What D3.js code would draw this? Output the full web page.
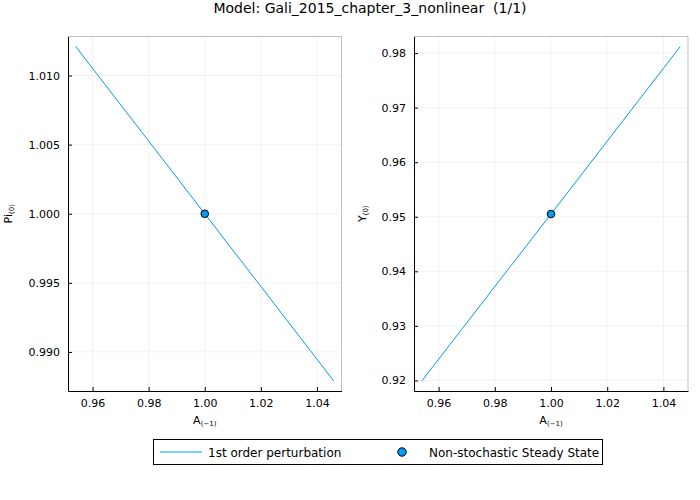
<!DOCTYPE html>
<html lang="en">
<head>
  <meta charset="utf-8">
  <title>Gali_2015_chapter_3_nonlinear</title>
  <script src="https://cdn.jsdelivr.net/npm/d3@7"></script>
  <style>
    body { margin: 0; background: #fff; }
    svg { font-family: "DejaVu Sans", sans-serif; }
  </style>
</head>
<body>
<script>
  // Data
  const titleText = "Model: Gali_2015_chapter_3_nonlinear  (1/1)";
  const shockValues = [0.954, 1.0, 1.046];          // A(-1)
  const piValues = [1.0121, 1.0, 0.9879];           // Pi(0)
  const yValues = [0.9199, 0.9505, 0.9812];         // Y(0)
  const steadyA = 1.0;
  const steadyPi = 1.0;
  const steadyY = 0.9505;
  const xTicks = [0.96, 0.98, 1.00, 1.02, 1.04];
  const piTicks = [0.990, 0.995, 1.000, 1.005, 1.010];
  const yTicks = [0.92, 0.93, 0.94, 0.95, 0.96, 0.97, 0.98];
  const legendLabels = ["1st order perturbation", "Non-stochastic Steady State"];

  const w = 700, h = 500;
  const blue = "#009af9";

  const svg = d3.select("body").append("svg")
    .attr("width", w).attr("height", h);

  svg.append("text")
    .attr("x", 370).attr("y", 13)
    .attr("text-anchor", "middle")
    .attr("font-size", 14)
    .style("white-space", "pre")
    .text(titleText);

  // Plots.jl style limits: data range plus 3% on each side
  function padded(vals) {
    const [lo, hi] = d3.extent(vals);
    const m = (hi - lo) * 0.03;
    return [lo - m, hi + m];
  }

  const panels = [
    { left: 68, right: 341.5, ys: piValues, ss: steadyPi, ticks: piTicks, fmt: d3.format(".3f"), name: "Pi", labelX: 8 },
    { left: 414, right: 688, ys: yValues, ss: steadyY, ticks: yTicks, fmt: d3.format(".2f"), name: "Y", labelX: 362 }
  ];
  const plotTop = 36.5, plotBottom = 391;

  panels.forEach(function (p) {
    const xScale = d3.scaleLinear().domain(padded(shockValues)).range([p.left, p.right]);
    const yScale = d3.scaleLinear().domain(padded(p.ys)).range([plotBottom, plotTop]);
    const g = svg.append("g");

    // grid
    g.selectAll(".gx").data(xTicks).enter().append("line")
      .attr("x1", d => xScale(d)).attr("x2", d => xScale(d))
      .attr("y1", plotTop).attr("y2", plotBottom)
      .attr("stroke", "#000").attr("stroke-opacity", 0.1).attr("stroke-width", 0.5);
    g.selectAll(".gy").data(p.ticks).enter().append("line")
      .attr("x1", p.left).attr("x2", p.right)
      .attr("y1", d => yScale(d)).attr("y2", d => yScale(d))
      .attr("stroke", "#000").attr("stroke-opacity", 0.1).attr("stroke-width", 0.5);

    // light frame top/right
    g.append("path")
      .attr("d", `M${p.left},${plotTop}H${p.right}V${plotBottom}`)
      .attr("fill", "none").attr("stroke", "#000").attr("stroke-opacity", 0.25).attr("stroke-width", 1);

    // axes
    const xAxis = d3.axisBottom(xScale).tickValues(xTicks).tickFormat(d3.format(".2f"))
      .tickSizeInner(-4).tickSizeOuter(0).tickPadding(8);
    const gx = g.append("g").attr("transform", `translate(0,${plotBottom})`).call(xAxis);
    const yAxis = d3.axisLeft(yScale).tickValues(p.ticks).tickFormat(p.fmt)
      .tickSizeInner(-4).tickSizeOuter(0).tickPadding(8);
    const gy = g.append("g").attr("transform", `translate(${p.left},0)`).call(yAxis);
    [gx, gy].forEach(function (a) {
      a.selectAll("text").attr("font-size", 11).attr("font-family", "DejaVu Sans, sans-serif").attr("fill", "#000");
      a.select(".domain").attr("stroke", "#000").attr("stroke-width", 1);
    });
    gx.selectAll("text").attr("dy", "0.71em");

    // axis labels
    const xl = g.append("text")
      .attr("x", (p.left + p.right) / 2).attr("y", 424)
      .attr("text-anchor", "middle").attr("font-size", 11);
    xl.append("tspan").text("A");
    xl.append("tspan").attr("font-size", 7).attr("dy", 2).text("(\u22121)");

    const yl = g.append("text")
      .attr("transform", `translate(${p.labelX + 4},${(plotTop + plotBottom) / 2}) rotate(-90)`)
      .attr("text-anchor", "middle").attr("font-size", 11);
    yl.append("tspan").text(p.name);
    yl.append("tspan").attr("font-size", 7).attr("dy", 2).text("(0)");

    // perturbation line
    const line = d3.line().x((d, i) => xScale(shockValues[i])).y(d => yScale(d));
    g.append("path").datum(p.ys)
      .attr("d", line)
      .attr("fill", "none").attr("stroke", blue).attr("stroke-width", 1);

    // steady state point
    g.append("circle")
      .attr("cx", xScale(steadyA)).attr("cy", yScale(p.ss)).attr("r", 3.8)
      .attr("fill", blue).attr("stroke", "#000").attr("stroke-width", 1);
  });

  // legend
  const lg = svg.append("g");
  lg.append("rect")
    .attr("x", 153.5).attr("y", 439.5).attr("width", 449).attr("height", 25)
    .attr("fill", "#fff").attr("stroke", "#000").attr("stroke-width", 1);
  lg.append("line")
    .attr("x1", 160).attr("x2", 202).attr("y1", 452).attr("y2", 452)
    .attr("stroke", blue).attr("stroke-width", 1);
  lg.append("text").attr("x", 208).attr("y", 456.5).attr("font-size", 12).text(legendLabels[0]);
  lg.append("circle").attr("cx", 402).attr("cy", 452).attr("r", 4.2)
    .attr("fill", blue).attr("stroke", "#000").attr("stroke-width", 1);
  lg.append("text").attr("x", 429).attr("y", 456.5).attr("font-size", 12).text(legendLabels[1]);
</script>
</body>
</html>
